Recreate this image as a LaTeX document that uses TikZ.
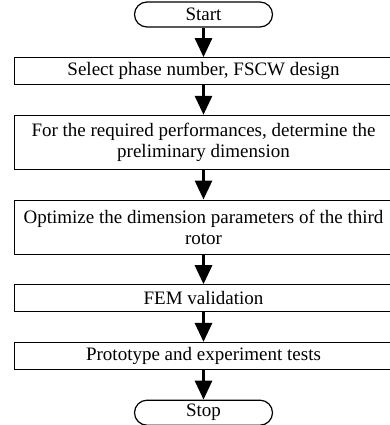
\documentclass[tikz,border=0pt]{standalone}
\usepackage{fontspec}
\setmainfont{Liberation Serif}
\usetikzlibrary{positioning,arrows.meta}

\begin{document}
\begin{tikzpicture}[node distance=29.5pt, auto,
        font=\fontsize{19}{21}\selectfont,
        block/.style={rectangle, draw, line width=1.2pt, minimum width=378pt, minimum height=27pt, align=center, inner sep=2pt},
        term/.style={rectangle, draw, line width=1.2pt, rounded corners=12.5pt, minimum width=138pt, minimum height=25pt, inner sep=1pt},
        line/.style={draw, line width=3pt, -{Triangle[width=17pt,length=19pt]}}]

        \useasboundingbox (0,0) rectangle (390pt,-425pt);

        \node [term] at (203.5pt,-14.5pt) (start) {Start};
        \node [block, below=of start] (phase) {Select phase number, FSCW design};
        \node [block, below=of phase, minimum height=54pt] (prelim) {For the required performances, determine the\\preliminary dimension};
        \node [block, below=of prelim, minimum height=54pt] (optim) {Optimize the dimension parameters of the third\\rotor};
        \node [block, below=of optim] (fem) {FEM validation};
        \node [block, below=of fem] (proto) {Prototype and experiment tests};
        \node [term, below=of proto] (stop) {Stop};

        \path [line] (start) -- (phase);
        \path [line] (phase) -- (prelim);
        \path [line] (prelim) -- (optim);
        \path [line] (optim) -- (fem);
        \path [line] (fem) -- (proto);
        \path [line] (proto) -- (stop);

    \end{tikzpicture}
\end{document}
